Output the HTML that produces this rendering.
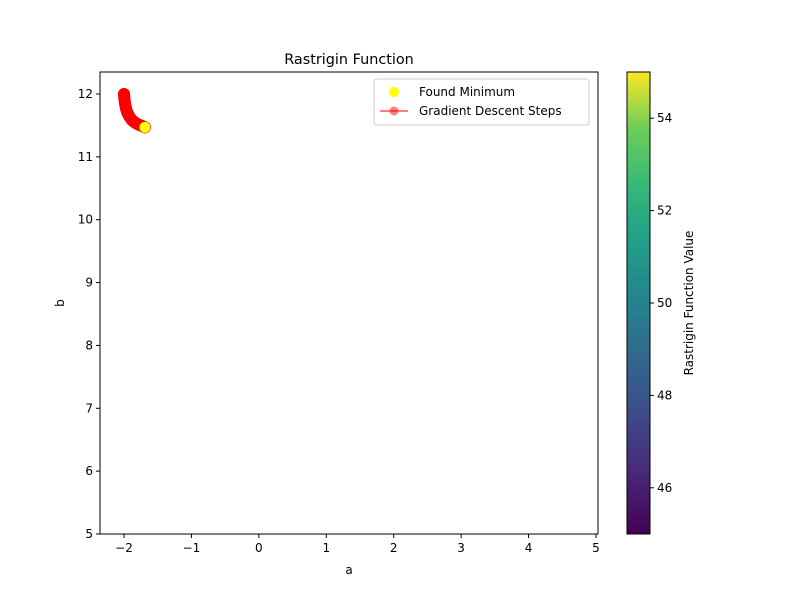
<!DOCTYPE html>
<html><head><meta charset="utf-8"><style>
body{margin:0;background:#fff;font-family:"Liberation Sans","DejaVu Sans",sans-serif;}
text{font-family:"DejaVu Sans","Liberation Sans",sans-serif;}
</style></head><body>
<svg id="c" width="800" height="600">
<defs><linearGradient id="vir" x1="0" y1="1" x2="0" y2="0">
<stop offset="0" stop-color="#440154"/><stop offset="0.13" stop-color="#482878"/><stop offset="0.25" stop-color="#3e4989"/><stop offset="0.38" stop-color="#31688e"/><stop offset="0.5" stop-color="#26828e"/><stop offset="0.63" stop-color="#1f9e89"/><stop offset="0.75" stop-color="#35b779"/><stop offset="0.88" stop-color="#6ece58"/><stop offset="1" stop-color="#fde725"/>
</linearGradient></defs>
<g id="plot"></g>
</svg>
<script>
const pathA=[-2,-1.995,-1.985,-1.97,-1.95,-1.92,-1.88,-1.83,-1.78,-1.73,-1.69];
const pathB=[12,11.93,11.85,11.77,11.7,11.64,11.58,11.54,11.51,11.49,11.47];
const minA=[-1.69], minB=[11.47];
const xTicks=[-2,-1,0,1,2,3,4,5];
const yTicks=[5,6,7,8,9,10,11,12];
const cTicks=[46,48,50,52,54];
const L=100,R=598,T=72,B=534;
const xmin=-2.356,xmax=5.03,ymin=5,ymax=12.35,cmin=45,cmax=55;
const X=v=>L+(v-xmin)/(xmax-xmin)*(R-L);
const Y=v=>B-(v-ymin)/(ymax-ymin)*(B-T);
const CY=v=>B-(v-cmin)/(cmax-cmin)*(B-T);
const svg=document.getElementById('plot');const NS='http://www.w3.org/2000/svg';
function mk(t,a,p){const e=document.createElementNS(NS,t);for(const k in a)e.setAttribute(k,a[k]);(p||svg).appendChild(e);return e;}
let e;
e=mk('rect',{x:L,y:T,width:R-L,height:B-T,fill:'#fff',stroke:'none'});

// path
let d=pathA.map((a,i)=>(i?'L':'M')+X(a)+','+Y(pathB[i])).join('');
e=mk('path',{d:d,fill:'none',stroke:'red','stroke-width':2,'stroke-opacity':0.5});

pathA.forEach((a,i)=>{const c=mk('circle',{cx:X(a),cy:Y(pathB[i]),r:6,fill:'red','fill-opacity':0.9});
});
// thick fill between steps
e=mk('path',{d:d,fill:'none',stroke:'red','stroke-width':12,'stroke-linecap':'round'});

minA.forEach((a,i)=>{const c=mk('circle',{cx:X(a),cy:Y(minB[i]),r:5.5,fill:'yellow'});
});
e=mk('rect',{x:L,y:T,width:R-L,height:B-T,fill:'none',stroke:'#000','stroke-width':1});

xTicks.forEach(t=>{const x=X(t);mk('line',{x1:x,x2:x,y1:B,y2:B+4,stroke:'#000'});
e=mk('text',{x:x,y:B+18,'font-size':12,'text-anchor':'middle'});e.textContent=t<0?'−'+(-t):t;
});
yTicks.forEach(t=>{const y=Y(t);mk('line',{x1:L-4,x2:L,y1:y,y2:y,stroke:'#000'});
e=mk('text',{x:L-7,y:y+4,'font-size':12,'text-anchor':'end'});e.textContent=t;
});
e=mk('text',{x:349,y:574,'font-size':12,'text-anchor':'middle'});e.textContent='a';

e=mk('text',{x:64,y:303,'font-size':12,'text-anchor':'middle',transform:'rotate(-90 64 303)'});e.textContent='b';

e=mk('text',{x:349,y:64,'font-size':14.4,'text-anchor':'middle'});e.textContent='Rastrigin Function';

// legend
const lg=mk('g',{});
mk('rect',{x:374,y:79,width:215,height:46,rx:3,fill:'#fff','fill-opacity':0.8,stroke:'#ccc'},lg);
mk('circle',{cx:394,cy:92,r:5,fill:'yellow'},lg);
e=mk('text',{x:419,y:96,'font-size':12},lg);e.textContent='Found Minimum';

mk('line',{x1:380,x2:408,y1:111,y2:111,stroke:'red','stroke-opacity':0.5,'stroke-width':2},lg);
mk('circle',{cx:394,cy:111,r:4.5,fill:'red','fill-opacity':0.5},lg);
e=mk('text',{x:419,y:115,'font-size':12},lg);e.textContent='Gradient Descent Steps';

// colorbar
e=mk('rect',{x:627,y:T,width:23,height:B-T,fill:'url(#vir)',stroke:'#000'});

cTicks.forEach(t=>{const y=CY(t);mk('line',{x1:650,x2:654,y1:y,y2:y,stroke:'#000'});
e=mk('text',{x:657,y:y+4,'font-size':12});e.textContent=t;
});
e=mk('text',{x:693,y:303,'font-size':12,'text-anchor':'middle',transform:'rotate(-90 693 303)'});e.textContent='Rastrigin Function Value';

</script>
</body></html>
